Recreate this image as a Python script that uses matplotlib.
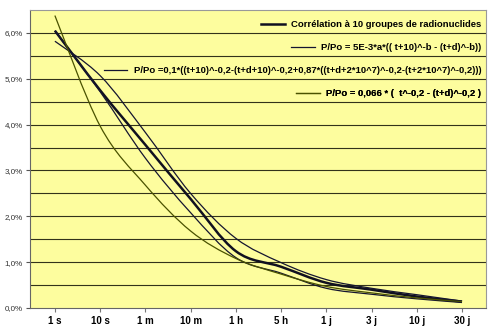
import numpy as np
import matplotlib
matplotlib.use('Agg')
import matplotlib.pyplot as plt
from matplotlib.path import Path
from matplotlib.patches import PathPatch
from matplotlib.lines import Line2D

# categories (time after shutdown)
labels = ['1 s', '10 s', '1 m', '10 m', '1 h', '5 h', '1 j', '3 j', '10 j', '30 j']

# residual power P/Po in %
correl = [6.05, 4.75, 3.56, 2.38, 1.24, 0.90, 0.55, 0.40, 0.25, 0.14]
formule_5e3 = [6.05, 4.72, 3.27, 2.08, 1.10, 0.76, 0.43, 0.30, 0.20, 0.12]
formule_01 = [5.82, 5.07, 3.83, 2.50, 1.52, 0.99, 0.62, 0.43, 0.29, 0.15]
formule_066 = [6.38, 3.97, 2.68, 1.68, 1.08, 0.74, 0.47, 0.33, 0.22, 0.14]

names = ['Corrélation à 10 groupes de radionuclides',
         'P/Po = 5E-3*a*(( t+10)^-b - (t+d)^-b))',
         'P/Po =0,1*((t+10)^-0,2-(t+d+10)^-0,2+0,87*((t+d+2*10^7)^-0,2-(t+2*10^7)^-0,2)))',
         'P/Po = 0,066 * (  t^-0,2 - (t+d)^-0,2 )']


def smooth_path(xs, ys):
    # Catmull-Rom through the points, written as cubic bezier segments
    pts = np.column_stack([xs, ys]).astype(float)
    n = len(pts)
    verts = [pts[0]]
    codes = [Path.MOVETO]
    for i in range(n - 1):
        p0 = pts[max(i - 1, 0)]
        p1 = pts[i]
        p2 = pts[i + 1]
        p3 = pts[min(i + 2, n - 1)]
        c1 = p1 + (p2 - p0) / 6.0
        c2 = p2 - (p3 - p1) / 6.0
        verts += [c1, c2, p2]
        codes += [Path.CURVE4] * 3
    return Path(verts, codes)


plt.rcParams['font.family'] = ['Liberation Sans', 'DejaVu Sans']

fig = plt.figure(figsize=(5, 3.35), dpi=100)
ax = fig.add_axes([0.06, 0.0806, 0.912, 0.8894])
ax.set_facecolor('#fdfd9e')

x = np.arange(len(labels))
series = [(correl, '#101020', 1.8),
          (formule_5e3, '#151530', 0.9),
          (formule_01, '#151530', 0.9),
          (formule_066, '#4a5200', 0.9)]

for vals, col, lw in series:
    p = smooth_path(x, vals)
    ax.add_patch(PathPatch(p, facecolor='none', edgecolor=col, lw=lw, zorder=3))

ax.set_xlim(-0.55, 9.53)
ax.set_ylim(0, 6.5)
yt = np.arange(0, 6.5, 1.0)
ax.set_yticks(yt)
ax.set_yticklabels([('%.1f%%' % v).replace('.', ',') for v in yt])
ax.set_xticks(x)
ax.set_xticklabels(labels, fontweight='bold', fontsize=7)
for g in np.arange(0.5, 6.5, 0.5):
    ax.axhline(g, color='#33331a', lw=0.8, zorder=1)

ax.tick_params(axis='y', labelsize=5.8, length=3, color='#555555', labelcolor='#333333', pad=2)
ax.tick_params(axis='x', length=3, color='#777777', pad=3)
for s in ['top', 'right']:
    ax.spines[s].set_color('#999999')
    ax.spines[s].set_linewidth(0.8)
ax.spines['left'].set_color('#666666')
ax.spines['bottom'].set_color('#666666')

# one legend per entry so that the line sits right before each text
ys = [0.95, 0.874, 0.797, 0.72]
for (vals, col, lw), name, yy in zip(series, names, ys):
    h = Line2D([], [], color=col, lw=lw)
    lg = ax.legend([h], [name], loc='center right', bbox_to_anchor=(0.99, yy),
                   frameon=False, handlelength=2.5, handletextpad=0.7,
                   borderaxespad=0, borderpad=0,
                   prop={'weight': 'bold', 'size': 6.8})
    ax.add_artist(lg)

fig.savefig('out.png', dpi=100, facecolor='white')
